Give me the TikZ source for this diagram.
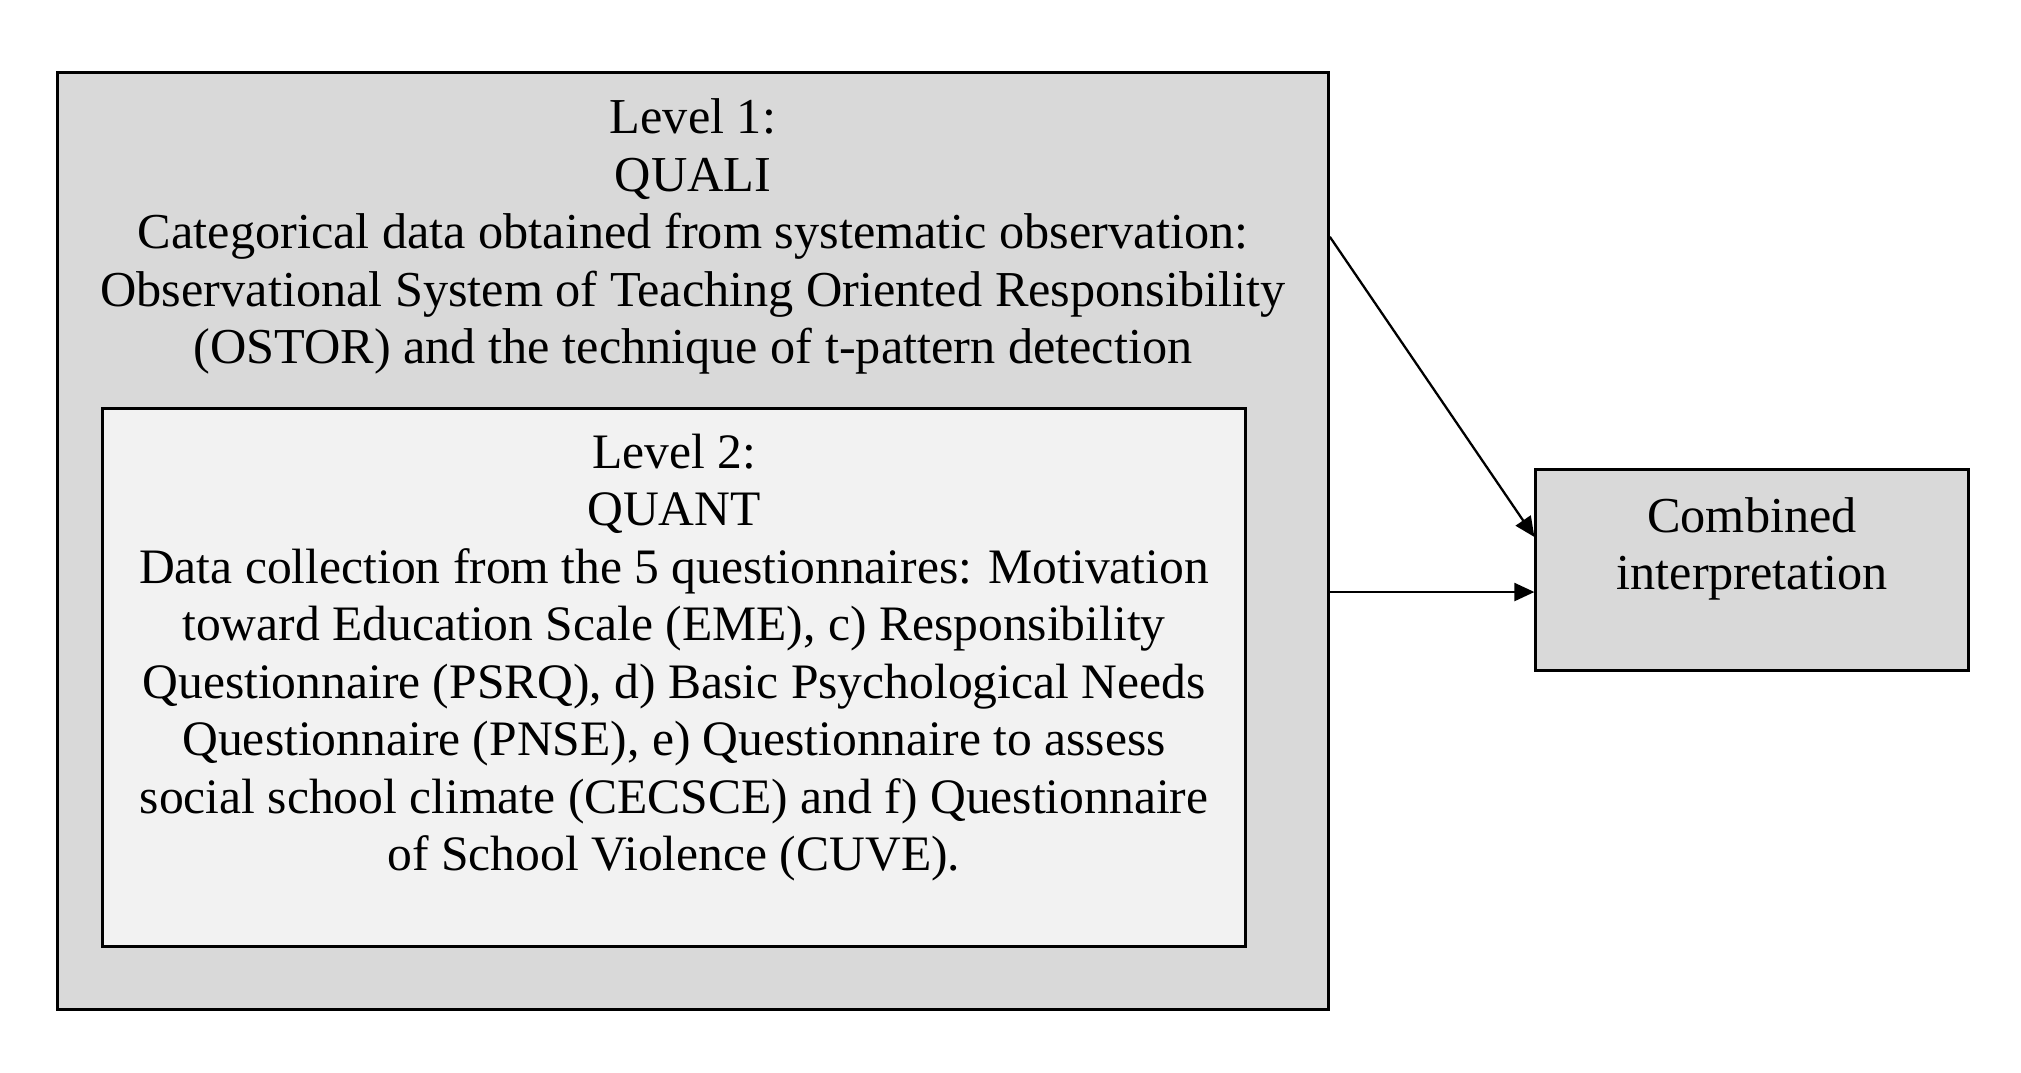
\documentclass[tikz,border=0pt]{standalone}
\usepackage{fontspec}
\setmainfont{Liberation Serif}
\usetikzlibrary{arrows.meta,positioning}

\definecolor{boxgray}{HTML}{D9D9D9}
\definecolor{innergray}{HTML}{F2F2F2}

\tikzset{
    levelbox/.style={draw=black, line width=0.85pt, inner sep=0pt},
    boxtext/.style={align=center, inner sep=0pt, anchor=north,
        font=\fontsize{14.3}{16.35}\selectfont},
    flow/.style={draw=black, line width=0.65pt, -{Triangle[length=0.2cm, width=0.18cm]}}
}

\begin{document}
\begin{tikzpicture}[x=0.01cm, y=-0.01cm]
    \useasboundingbox (0,0) rectangle (2021,1072);

    % Level 1 (outer box)
    \node[levelbox, fill=boxgray, minimum width=12.70cm, minimum height=9.36cm] (quali) at (693,541) {};
    \node[boxtext] (qualitext) at ([yshift=-0.27cm]quali.north) {Level 1:\\QUALI\\
        Categorical data obtained from systematic observation:\\
        Observational System of Teaching Oriented Responsibility\\
        (OSTOR) and the technique of t-pattern detection};

    % Level 2 (inner box)
    \node[levelbox, fill=innergray, minimum width=11.42cm, minimum height=5.37cm] (quant) at (674,677.5) {};
    \node[boxtext, font=\fontsize{14.1}{16.35}\selectfont] (quanttext) at ([yshift=-0.26cm]quant.north) {Level 2:\\QUANT\\
        Data collection from the 5 questionnaires: Motivation\\
        toward Education Scale (EME), c) Responsibility\\
        Questionnaire (PSRQ), d) Basic Psychological Needs\\
        Questionnaire (PNSE), e) Questionnaire to assess\\
        social school climate (CECSCE) and f) Questionnaire\\
        of School Violence (CUVE).};

    % Combined interpretation
    \node[levelbox, fill=boxgray, minimum width=4.32cm, minimum height=2.00cm] (combined) at (1752,570) {};
    \node[boxtext] (combinedtext) at ([yshift=-0.28cm]combined.north) {Combined\\interpretation};

    % Connectors
    \coordinate (qualiout) at ([yshift=3.04cm]quali.east);
    \coordinate (diagin) at ([yshift=0.33cm]combined.west);
    \coordinate (horizin) at ([yshift=-0.22cm]combined.west);
    \draw[flow] (qualiout) -- (diagin);
    \draw[flow] (horizin -| quali.east) -- (horizin);
\end{tikzpicture}
\end{document}
